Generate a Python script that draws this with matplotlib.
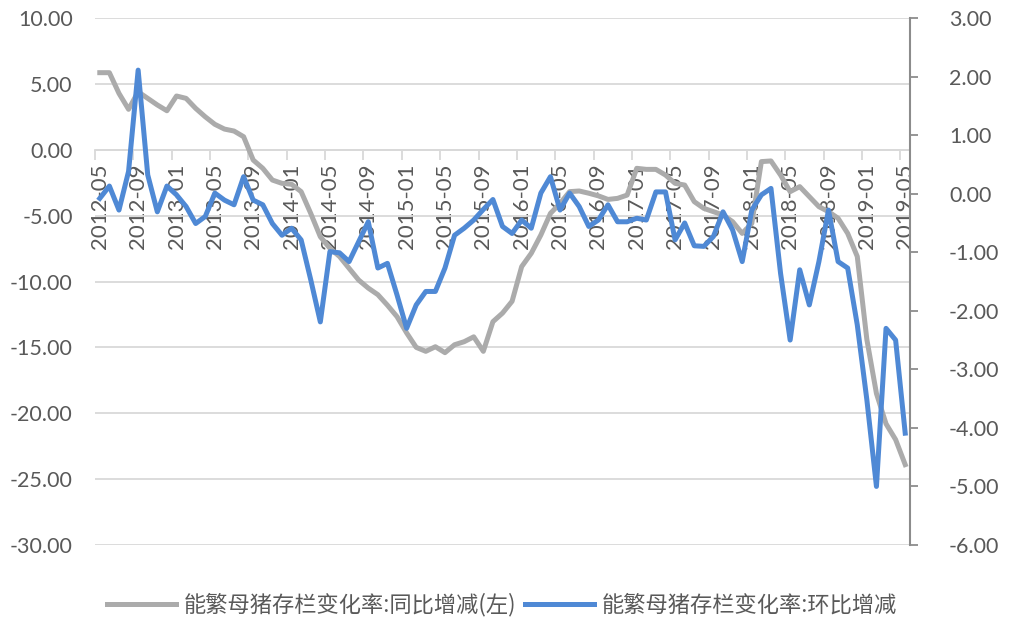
import numpy as np
import pandas as pd
import matplotlib
matplotlib.use('Agg')
import matplotlib.pyplot as plt
from matplotlib.ticker import FormatStrFormatter, FixedLocator

plt.rcParams['font.family'] = ['Lato', 'Noto Sans CJK SC', 'DejaVu Sans']

months = pd.period_range('2012-05', '2019-05', freq='M').strftime('%Y-%m').tolist()

# 同比增减 (left axis, %)
yoy = [5.85, 5.85, 4.28, 3.07, 4.40, 3.90, 3.40, 2.96, 4.08, 3.90,
       3.14, 2.50, 1.93, 1.57, 1.42, 0.99, -0.78, -1.41, -2.30, -2.55,
       -2.62, -3.18, -4.83, -6.60, -7.48, -8.10, -9.00, -9.89, -10.50, -11.00,
       -11.80, -12.67, -13.90, -15.00, -15.30, -14.95, -15.40, -14.80, -14.57, -14.20,
       -15.30, -13.05, -12.40, -11.50, -8.87, -7.86, -6.47, -4.83, -4.07, -3.18,
       -3.13, -3.30, -3.50, -3.77, -3.69, -3.44, -1.41, -1.49, -1.49, -1.92,
       -2.55, -2.68, -3.94, -4.45, -4.70, -4.95, -5.46, -6.35, -5.59, -0.90,
       -0.85, -1.92, -3.18, -2.80, -3.56, -4.32, -4.70, -5.20, -6.35, -8.10,
       -14.40, -18.50, -20.80, -22.00, -23.90]

# 环比增减 (right axis, %)
mom = [-0.08, 0.13, -0.28, 0.38, 2.11, 0.32, -0.31, 0.13, -0.02, -0.22,
       -0.51, -0.39, 0.01, -0.11, -0.19, 0.29, -0.11, -0.19, -0.51, -0.71,
       -0.59, -0.79, -1.47, -2.19, -0.99, -1.01, -1.16, -0.82, -0.48, -1.27,
       -1.19, -1.73, -2.30, -1.90, -1.67, -1.67, -1.27, -0.71, -0.59, -0.45,
       -0.27, -0.10, -0.56, -0.68, -0.45, -0.59, 0.01, 0.29, -0.28, 0.01,
       -0.22, -0.56, -0.45, -0.19, -0.48, -0.48, -0.42, -0.45, 0.03, 0.03,
       -0.79, -0.50, -0.89, -0.90, -0.73, -0.31, -0.62, -1.16, -0.28, -0.02,
       0.09, -1.36, -2.50, -1.30, -1.90, -1.16, -0.28, -1.16, -1.27, -2.24,
       -3.52, -5.00, -2.30, -2.50, -4.09]

label_yoy = '能繁母猪存栏变化率:同比增减(左)'
label_mom = '能繁母猪存栏变化率:环比增减'

gray = '#ABABAB'
blue = '#4F89D5'
txt = '#595959'
grid = '#D9D9D9'

x = np.arange(len(months))

fig = plt.figure(figsize=(10.11, 6.21), dpi=100)
ax = fig.add_axes([95 / 1011, 1 - 545 / 621, 815 / 1011, 527 / 621])
ax2 = ax.twinx()

l1, = ax.plot(x, yoy, color=gray, lw=3.6, solid_joinstyle='round', zorder=3)
l2, = ax2.plot(x, mom, color=blue, lw=3.6, solid_joinstyle='round', zorder=3)

ax.set_xlim(-0.5, len(months) - 0.5)
ax.set_ylim(-30, 10)
ax.set_yticks(np.arange(-30, 11, 5))
ax.yaxis.set_major_formatter(FormatStrFormatter('%.2f'))
ax2.set_ylim(-6, 3)
ax2.set_yticks(np.arange(-6, 3.1, 1))
ax2.yaxis.set_major_formatter(FormatStrFormatter('%.2f'))

ax.grid(axis='y', color=grid, lw=1.3)
ax.set_axisbelow(True)

for s in ['top', 'left', 'right']:
    ax.spines[s].set_visible(False)
ax.spines['bottom'].set_position(('data', 0))
ax.spines['bottom'].set_color(grid)
ax.spines['bottom'].set_linewidth(1.3)
for s in ['top', 'left', 'bottom']:
    ax2.spines[s].set_visible(False)
ax2.spines['right'].set_color('#8C8C8C')
ax2.spines['right'].set_linewidth(1.5)

ax.set_xticks(x[::4])
ax.set_xticklabels(months[::4], rotation=90)
ax.xaxis.set_minor_locator(FixedLocator(np.arange(-0.5, len(months), 4)))
ax.tick_params(axis='x', which='major', length=0, pad=10, labelsize=16, labelcolor=txt)
ax.tick_params(axis='x', which='minor', length=7, width=1.3, color=grid, direction='out')
ax.tick_params(axis='y', length=0, labelsize=15.5, labelcolor=txt, pad=16)
ax2.tick_params(axis='y', length=6, width=1.3, color='#8C8C8C', labelsize=15.5,
                labelcolor=txt, pad=22)

fig.legend([l1, l2], [label_yoy, label_mom], loc='lower center',
           bbox_to_anchor=(0.497, -0.025), ncol=2, frameon=False,
           prop={'family': ['Noto Sans CJK SC', 'DejaVu Sans'], 'size': 16},
           labelcolor=txt, handlelength=3.1, columnspacing=0.4, handletextpad=0.35)

fig.savefig('out.png', dpi=100)
